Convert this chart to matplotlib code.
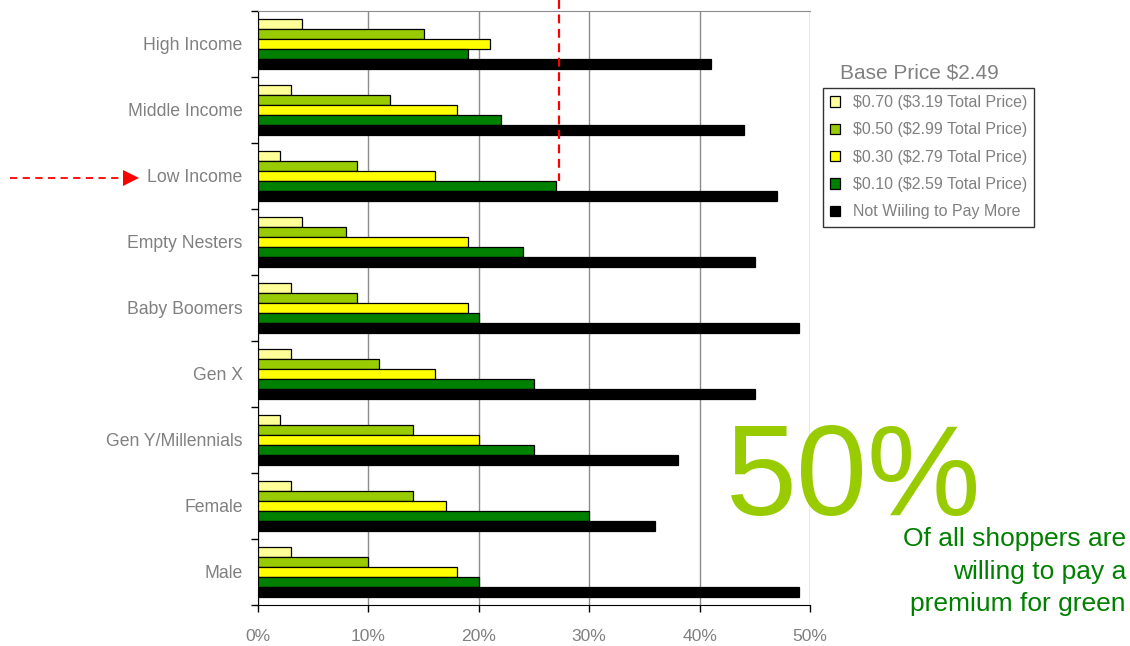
import numpy as np
import matplotlib as mpl
mpl.use('Agg')
import matplotlib.pyplot as plt
import matplotlib.ticker as tick
from matplotlib.lines import Line2D

plt.rcParams['font.family'] = ['Liberation Sans', 'DejaVu Sans']

#--------------------------------------------------------------------------------------------------------
# survey data (% of shoppers)

segments = ["High Income", "Middle Income", "Low Income", "Empty Nesters", "Baby Boomers",
            "Gen X", "Gen Y/Millennials", "Female", "Male"]

series_names = ["$0.70 ($3.19 Total Price)", "$0.50 ($2.99 Total Price)",
                "$0.30 ($2.79 Total Price)", "$0.10 ($2.59 Total Price)",
                "Not Wiiling to Pay More"]

pay_070 = [4, 3, 2, 4, 3, 3, 2, 3, 3]
pay_050 = [15, 12, 9, 8, 9, 11, 14, 14, 10]
pay_030 = [21, 18, 16, 19, 19, 16, 20, 17, 18]
pay_010 = [19, 22, 27, 24, 20, 25, 25, 30, 20]
not_willing = [41, 44, 47, 45, 49, 45, 38, 36, 49]

series_colors = ["#FFFF99", "#99CC00", "#FFFF00", "#008000", "#000000"]

x_ticks = [0, 10, 20, 30, 40, 50]
highlight = "Low Income"

#--------------------------------------------------------------------------------------------------------

TXT = "#808080"
GRID = "#8C8C8C"

def esc(s): return s.replace("$", r"\$")   # keep the dollar signs literal (no mathtext)

fig = plt.figure(figsize=(11.30, 6.46), dpi=100)
ax = fig.add_axes([258/1130, 1-605/646, (810-258)/1130, (605-11)/646])

series = [pay_070, pay_050, pay_030, pay_010, not_willing]
n = len(segments)
y = np.arange(n)
h = 0.153
handles = []
for k, (vals, col, name) in enumerate(zip(series, series_colors, series_names)):
    off = (k - 2) * h
    b = ax.barh(y + off, vals, height=h, color=col, edgecolor="black", linewidth=0.9,
                label=esc(name), zorder=3)
    handles.append(b)

ax.set_xlim(x_ticks[0], x_ticks[-1])
ax.set_ylim(n - 0.5, -0.5)

ax.set_xticks(x_ticks)
ax.xaxis.set_major_formatter(tick.FuncFormatter(lambda v, p: "%d%%" % v))
ax.tick_params(axis='x', colors="black", labelcolor=TXT, labelsize=12.6, length=5, width=1, pad=12)
ax.grid(axis='x', color=GRID, linewidth=1, zorder=0)

# ticks on category boundaries, labels at category centres
ax.set_yticks(np.arange(n + 1) - 0.5)
ax.set_yticklabels([])
ax.set_yticks(y, minor=True)
ax.set_yticklabels(segments, minor=True)
ax.tick_params(axis='y', which='major', length=5, width=1, color="black")
ax.tick_params(axis='y', which='minor', length=0, labelsize=12.7, labelcolor=TXT, pad=11)

ax.spines['top'].set_color(GRID)
ax.spines['right'].set_visible(False)
ax.spines['left'].set_color("black")
ax.spines['bottom'].set_color("black")

# red dashed marker on the low income $0.10 bar
i_low = segments.index(highlight)
x_mark = pay_010[i_low] + 0.3
ax.plot([x_mark, x_mark], [-0.67, i_low + 0.5 * h], color="red", linestyle=(0, (4, 2.5)),
        linewidth=1.6, clip_on=False, zorder=5)

# arrow pointing at the low income label
y_arrow = 1 - 178/646
fig.add_artist(Line2D([10/1130, 124/1130], [y_arrow, y_arrow], color="red", linewidth=1.3,
                      linestyle=(0, (4, 3)), transform=fig.transFigure))
fig.add_artist(Line2D([131/1130], [y_arrow], marker=">", markersize=12, color="red",
                      markeredgewidth=0, transform=fig.transFigure))

# legend
leg = fig.legend(handles=handles, loc="upper left", bbox_to_anchor=(823/1130, 1-88/646),
                 frameon=True, fancybox=False, edgecolor="black", fontsize=11.5,
                 handlelength=0.6, handleheight=0.6, handletextpad=0.8, labelspacing=0.77,
                 borderpad=0.45, borderaxespad=0)
leg.get_frame().set_linewidth(1.0)
for t in leg.get_texts():
    t.set_color(TXT)
fig.text(840/1130, 1-73/646, esc("Base Price $2.49"), color=TXT, fontsize=15,
         va="center", ha="left")

# call-out
fig.text(854/1130, 1-515/646, "50%", color="#99CC00", fontsize=92, ha="center", va="baseline")
fig.text(1126/1130, 1-527/646, "Of all shoppers are\nwilling to pay a\npremium for green",
         color="#008000", fontsize=19, ha="right", va="top", linespacing=1.45,
         multialignment="right")

fig.savefig("out.png", dpi=100)
